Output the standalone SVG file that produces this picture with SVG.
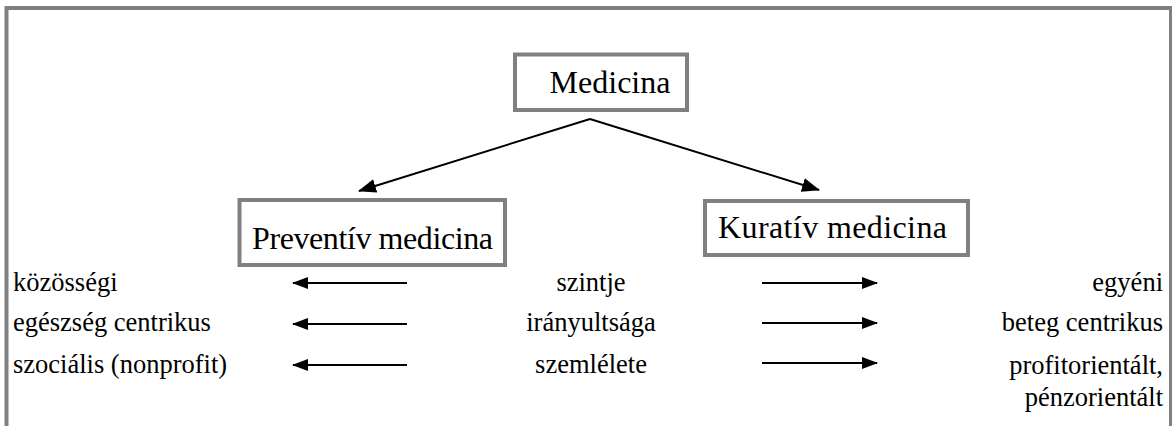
<svg xmlns="http://www.w3.org/2000/svg" width="1172" height="426" viewBox="0 0 1172 426">
<style>
.box{fill:#fff;stroke:#808080;stroke-width:4}
.t{font-family:"Liberation Serif","Times New Roman",serif;fill:#000}
.big{font-size:32px}
.sm{font-size:26.5px}
.c{stroke:#000;stroke-width:2;fill:none}
</style>
<defs>
<marker id="ah" viewBox="0 0 16 12" refX="15" refY="6" markerWidth="16" markerHeight="12" markerUnits="userSpaceOnUse" orient="auto">
<path d="M0,0 L16,6 L0,12 Z" fill="#000"/>
</marker>
<marker id="ahd" viewBox="0 0 18 14" refX="17" refY="7" markerWidth="18" markerHeight="14" markerUnits="userSpaceOnUse" orient="auto">
<path d="M0,0 L18,7 L0,14 Z" fill="#000"/>
</marker>
</defs>
<rect x="6.5" y="8" width="1164.5" height="500" fill="#fff" stroke="#808080" stroke-width="4"/>
<g id="connectors">
<line class="c" x1="590" y1="119" x2="359" y2="191" marker-end="url(#ahd)"/>
<line class="c" x1="590" y1="119" x2="819" y2="190" marker-end="url(#ahd)"/>
<line class="c" x1="407" y1="283" x2="293" y2="283" marker-end="url(#ah)"/>
<line class="c" x1="407" y1="324" x2="293" y2="324" marker-end="url(#ah)"/>
<line class="c" x1="407" y1="365" x2="293" y2="365" marker-end="url(#ah)"/>
<line class="c" x1="762" y1="283" x2="877" y2="283" marker-end="url(#ah)"/>
<line class="c" x1="762" y1="323" x2="877" y2="323" marker-end="url(#ah)"/>
<line class="c" x1="762" y1="363" x2="877" y2="363" marker-end="url(#ah)"/>
</g>
<g id="medicina">
<rect class="box" x="515" y="54.5" width="172" height="55.5"/>
<text class="t big" x="610" y="93" text-anchor="middle">Medicina</text>
</g>
<g id="preventiv">
<rect class="box" x="239.5" y="200" width="265.5" height="65"/>
<text class="t big" x="372.5" y="249" text-anchor="middle" textLength="241">Preventív medicina</text>
</g>
<g id="kurativ">
<rect class="box" x="705" y="201" width="263" height="54"/>
<text class="t big" x="832.5" y="238" text-anchor="middle" textLength="229">Kuratív medicina</text>
</g>
<g id="left-col">
<text class="t sm" x="13" y="291">közösségi</text>
<text class="t sm" x="13" y="331">egészség centrikus</text>
<text class="t sm" x="13" y="373">szociális (nonprofit)</text>
</g>
<g id="mid-col">
<text class="t sm" x="591" y="291" text-anchor="middle">szintje</text>
<text class="t sm" x="591" y="331" text-anchor="middle">irányultsága</text>
<text class="t sm" x="591" y="373" text-anchor="middle">szemlélete</text>
</g>
<g id="right-col">
<text class="t sm" x="1163" y="291" text-anchor="end">egyéni</text>
<text class="t sm" x="1163" y="331" text-anchor="end">beteg centrikus</text>
<text class="t sm" x="1163" y="374" text-anchor="end">profitorientált,</text>
<text class="t sm" x="1163" y="406" text-anchor="end">pénzorientált</text>
</g>
</svg>
